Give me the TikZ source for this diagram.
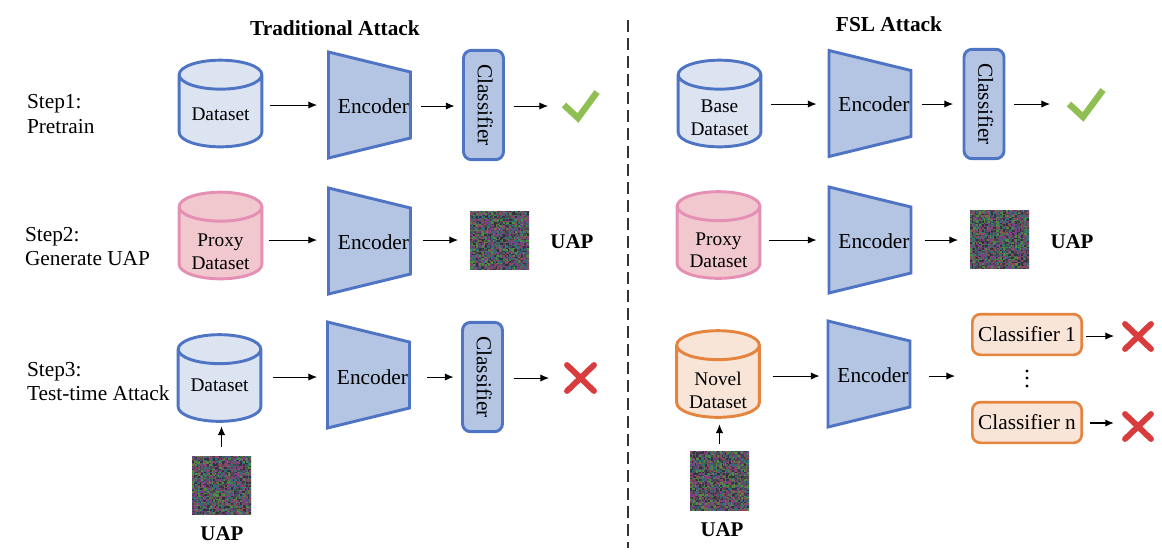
\documentclass[tikz,border=0pt]{standalone}
\usepackage{fontspec}
\usepackage{graphicx}
\setmainfont{Liberation Serif}
\usetikzlibrary{shapes.geometric,arrows.meta}
\newdimen\pxu \pxu=.75pt
\definecolor{bluestroke}{HTML}{4F74C4}
\definecolor{bluefill}{HTML}{B4C5E4}
\definecolor{bluelight}{HTML}{DCE4F2}
\definecolor{pinkstroke}{HTML}{E58FB5}
\definecolor{pinkfill}{HTML}{F0C8CD}
\definecolor{orangestroke}{HTML}{E5843F}
\definecolor{orangefill}{HTML}{F8E5D8}
\definecolor{okgreen}{HTML}{8FBF52}
\definecolor{badred}{HTML}{D83C3C}
\definecolor{nA}{HTML}{34323E}
\definecolor{nB}{HTML}{4F8A3F}
\definecolor{nC}{HTML}{7A3F86}
\definecolor{nD}{HTML}{2F6E78}
\definecolor{nE}{HTML}{8A4A5A}
\definecolor{nF}{HTML}{4A4A54}
\pgfmathsetseed{4217}
\newcommand{\noisecells}{%
  \foreach \i in {0,...,39}{\foreach \j in {0,...,39}{%
    \pgfmathrandominteger{\rc}{1}{6}%
    \fill[color=\ifcase\rc\or nA\or nB\or nC\or nD\or nE\or nF\fi]
      ([xshift=\i*1.5\pxu,yshift=\j*1.5\pxu]path picture bounding box.south west) rectangle +(1.52\pxu,1.52\pxu);
  }}%
}
\newcommand{\conn}[5]{\draw[arr,shorten <=#4\pxu,shorten >=#5\pxu] (#1.east |- 0,#3) -- (#2.west |- 0,#3);}
% text inside a cylinder, moved down by #1 pt without changing the cylinder's size
\newcommand{\cyltext}[2]{\smash{\raisebox{-#1pt}{\begin{tabular}[c]{@{}c@{}}#2\end{tabular}}}}
\newcommand{\encnode}[3][6.2]{%
  \begin{scope}[shift={(#3)}]
    \draw[encshape] (-41,-53) -- (41,-33) -- (41,33) -- (-41,53) -- cycle;
  \end{scope}
  \node[encbox] (#2) at (#3) {\hspace*{6pt}\smash{\raisebox{-#1pt}{Encoder}}};}
\newcommand{\clftext}{\hspace*{2.5pt}\rotatebox{-90}{Classifier}}
\tikzset{
  x=.75pt,y=-.75pt,
  every node/.style={font=\fontsize{16}{18}\selectfont,outer sep=0pt,text=black},
  arr/.style={black,line width=.75pt,-{Latex[length=6.5pt,width=5.5pt]}},
  cyl/.style={cylinder,shape border rotate=90,aspect=.5,anchor=shape center,draw,line width=2.2pt,
    minimum width=62pt,minimum height=65pt,inner sep=0pt,
    font=\fontsize{14.5}{17}\selectfont,cylinder uses custom fill},
  cylblue/.style={cyl,draw=bluestroke,cylinder body fill=bluelight,cylinder end fill=bluelight},
  cylpink/.style={cyl,draw=pinkstroke,cylinder body fill=pinkfill,cylinder end fill=pinkfill},
  cylorange/.style={cyl,draw=orangestroke,cylinder body fill=orangefill,cylinder end fill=orangefill},
  encshape/.style={draw=bluestroke,fill=bluefill,line width=2.2pt},
  encbox/.style={minimum width=62.25pt,minimum height=81pt,inner sep=0pt},
  clfv/.style={draw=bluestroke,fill=bluefill,line width=2.2pt,rounded corners=6pt,
    minimum width=30pt,minimum height=82pt,inner sep=0pt},
  clfh/.style={draw=orangestroke,fill=orangefill,line width=2pt,rounded corners=6pt,
    minimum width=82pt,minimum height=30.5pt,inner sep=0pt},
  noisebox/.style={minimum size=44.25pt,inner sep=0pt,fill=nA,path picture={\noisecells}},
  steplabel/.style={anchor=west,align=left,inner sep=0pt,font=\fontsize{16}{18.5}\selectfont},
  uaplabel/.style={font=\fontsize{15.7}{18}\selectfont\bfseries},
  titlelabel/.style={font=\fontsize{16}{18}\selectfont\bfseries},
  okmark/.style={draw=okgreen,line width=4.8pt,line cap=butt,line join=miter},
  badmark/.style={draw=badred,line width=4.4pt,line cap=round},
}
\begin{document}
\begin{tikzpicture}
\useasboundingbox (0,0) rectangle (1162,558);
% titles and divider
\node[titlelabel] (t1) at (335,28) {Traditional Attack};
\node[titlelabel] (t2) at (889,24) {FSL Attack};
\coordinate (divtop) at (628,20);
\coordinate (divbot) at (628,548);
\draw[black!80,line width=1.4pt,dash pattern=on 9pt off 4.5pt] (divtop) -- (divbot);
% step labels
\node[steplabel] (s1) at (27,114) {Step1:\\Pretrain};
\node[steplabel] (s2) at (25,246.5) {Step2:\\Generate UAP};
\node[steplabel] (s3) at (27,381.5) {Step3:\\Test-time Attack};
% left row 1
\node[cylblue] (la) at (220.5,103.5) {\cyltext{6.6}{Dataset}};
\encnode{le1}{369.5,105}
\node[clfv] (lc1) at (483.5,105) {\clftext};
\conn{la}{le1}{105}{8}{11}
\conn{le1}{lc1}{106}{10}{9}
\draw[arr,shorten <=10\pxu] (lc1.east |- 0,106) -- (548,106);
\draw[okmark] (564,105) -- (578,118) -- (597,92);
% left row 2
\node[cylpink] (lb) at (220.5,235.5) {\cyltext{11.3}{Proxy\\Dataset}};
\encnode{le2}{369.5,241}
\node[noisebox] (ln2) at (499.5,240.5) {};
\node[uaplabel] (lu2) at (572,242) {UAP};
\conn{lb}{le2}{240}{7}{11}
\conn{le2}{ln2}{240}{12}{12}
% left row 3
\node[cylblue] (lc) at (219.5,378) {\cyltext{4.35}{Dataset}};
\encnode[6.9]{le3}{368.5,375}
\node[clfv] (lc3) at (482.5,377) {\clftext};
\node[noisebox] (ln3) at (221.5,485.5) {};
\node[uaplabel] (lu3) at (222,534) {UAP};
\conn{lc}{le3}{377}{12}{10}
\conn{le3}{lc3}{377}{17}{9}
\draw[arr,shorten <=11\pxu] (lc3.east |- 0,378) -- (549,378);
\draw[badmark] (567,365) -- (594,391) (594,365) -- (567,391);
\draw[arr,shorten <=9\pxu,shorten >=5\pxu] (ln3.north) -- (lc.south -| ln3.north);
% right row 1
\node[cylblue] (ra) at (719.5,103.5) {\cyltext{9.6}{Base\\Dataset}};
\encnode{re1}{870,103.5}
\node[clfv] (rc1) at (984,104) {\clftext};
\conn{ra}{re1}{104}{10}{12}
\conn{re1}{rc1}{104}{10}{11}
\draw[arr,shorten <=10\pxu] (rc1.east |- 0,104) -- (1050,104);
\draw[okmark] (1069,104) -- (1083,117) -- (1103,90);
% right row 2
\node[cylpink] (rb) at (718.5,235) {\cyltext{10.4}{Proxy\\Dataset}};
\encnode{re2}{870,240}
\node[noisebox] (rn2) at (999.5,239.5) {};
\node[uaplabel] (ru2) at (1072,242) {UAP};
\conn{rb}{re2}{240}{9}{12}
\conn{re2}{rn2}{240}{13}{12}
% right row 3
\node[cylorange] (rc) at (718,374) {\cyltext{11.5}{Novel\\Dataset}};
\encnode{re3}{869,374}
\node[clfh] (rk1) at (1027,334.5) {Classifier 1};
\node[clfh] (rkn) at (1027,422.5) {Classifier n};
\coordinate (rfan) at (955,376);
\node[noisebox] (rn3) at (719.5,481) {};
\node[uaplabel] (ru3) at (722,530) {UAP};
\conn{rc}{re3}{376}{14}{8}
\draw[arr,shorten <=18\pxu] (re3.east |- rfan) -- (rfan);
\node[fill=black,circle,minimum size=2.4pt,inner sep=0pt] (d1) at (1027,371) {};
\node[fill=black,circle,minimum size=2.4pt,inner sep=0pt] (d2) at (1027,378) {};
\node[fill=black,circle,minimum size=2.4pt,inner sep=0pt] (d3) at (1027,386) {};
\coordinate (rx1) at (1114,336);
\coordinate (rxn) at (1114,423);
\draw[arr,shorten <=4\pxu] (rk1.east |- rx1) -- (rx1);
\draw[arr,line width=1.7pt,shorten <=8\pxu] (rkn.east |- rxn) -- (rxn);
\draw[badmark] (1125,324) -- (1151,349) (1151,324) -- (1125,349);
\draw[badmark] (1125,414) -- (1151,439) (1151,414) -- (1125,439);
\draw[arr,shorten <=8\pxu,shorten >=7\pxu] (rn3.north) -- (rc.south -| rn3.north);
\end{tikzpicture}
\end{document}
